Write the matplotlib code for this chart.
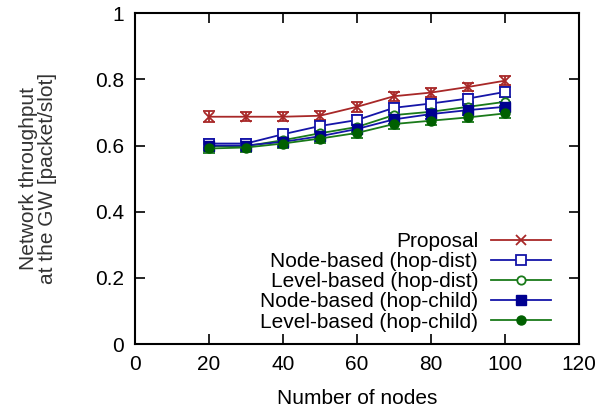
import matplotlib.pyplot as plt

plt.rcParams['font.family'] = ['Liberation Sans', 'DejaVu Sans']

nodes = [20, 30, 40, 50, 60, 70, 80, 90, 100]

proposal = [0.687, 0.687, 0.687, 0.690, 0.717, 0.749, 0.760, 0.777, 0.796]
node_dist = [0.606, 0.606, 0.634, 0.659, 0.677, 0.714, 0.727, 0.742, 0.762]
level_dist = [0.598, 0.598, 0.616, 0.637, 0.656, 0.692, 0.702, 0.717, 0.732]
node_child = [0.600, 0.600, 0.611, 0.628, 0.650, 0.679, 0.695, 0.707, 0.717]
level_child = [0.591, 0.594, 0.606, 0.621, 0.638, 0.665, 0.675, 0.685, 0.697]

err_prop = [0.016, 0.014, 0.014, 0.014, 0.015, 0.014, 0.013, 0.013, 0.014]
err_other = [0.014] * 9

labels = ['Proposal', 'Node-based (hop-dist)', 'Level-based (hop-dist)',
          'Node-based (hop-child)', 'Level-based (hop-child)']

red = '#a82828'
blue = '#1515a8'
green = '#1a7a1a'

fig = plt.figure(figsize=(6.16, 4.12), dpi=100)
ax = fig.add_axes([0.219, 0.165, 0.721, 0.803])

series = [
    (proposal, err_prop, red, dict(marker='x', ms=7, mew=1.3)),
    (node_dist, err_other, blue, dict(marker='s', ms=7, mfc='white', mew=1.3)),
    (level_dist, err_other, green, dict(marker='o', ms=6, mfc='white', mew=1.3)),
    (node_child, err_other, blue, dict(marker='s', ms=6.5, mfc='#000090', mec='#000090')),
    (level_child, err_other, green, dict(marker='o', ms=6.5, mfc='#006000', mec='#006000')),
]

handles = []
for (vals, err, col, mk), lab in zip(series, labels):
    ax.errorbar(nodes, vals, yerr=err, color=col, lw=1.3, capsize=4,
                capthick=1.3, elinewidth=1.3, **mk)
    h, = ax.plot([], [], color=col, lw=1.3, **mk)
    handles.append(h)

ax.set_xlim(0, 120)
ax.set_ylim(0, 1)
ax.set_xticks(range(0, 121, 20))
ax.set_yticks([0, 0.2, 0.4, 0.6, 0.8, 1.0])
ax.set_yticklabels(['0', '0.2', '0.4', '0.6', '0.8', '1'])
ax.tick_params(direction='in', length=7, width=1.2, top=True, right=True,
               labelsize=15, pad=8)
for s in ax.spines.values():
    s.set_linewidth(1.5)

ax.set_xlabel('Number of nodes', fontsize=15, labelpad=11)
ax.set_ylabel('Network throughput\nat the GW [packet/slot]', fontsize=15,
              color='#333333', labelpad=27, linespacing=1.0)

ax.legend(handles, labels, loc='lower right', bbox_to_anchor=(0.965, 0.0),
          frameon=False, markerfirst=False, fontsize=15, handlelength=2.9,
          labelspacing=0.05, borderaxespad=0.2, handletextpad=0.6)

fig.savefig('out.png', dpi=100)
